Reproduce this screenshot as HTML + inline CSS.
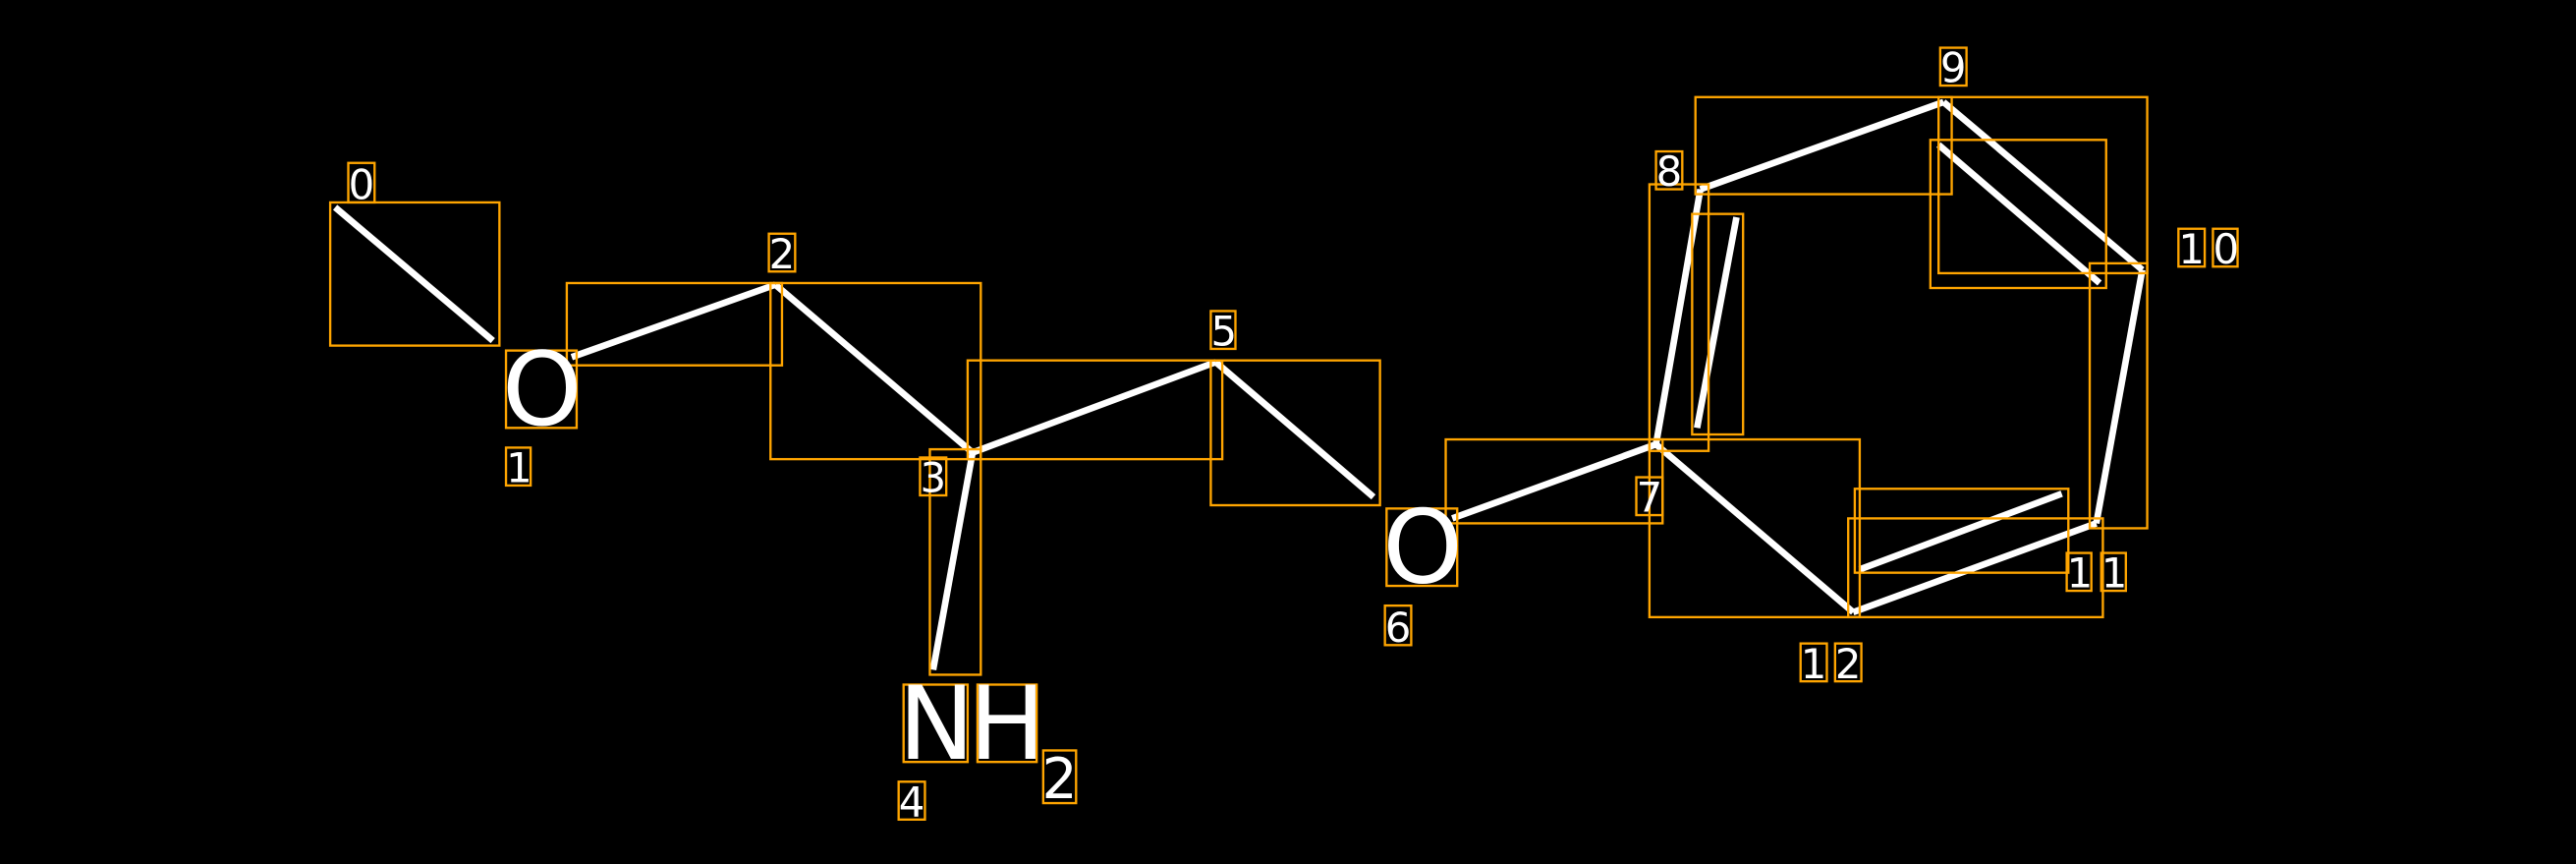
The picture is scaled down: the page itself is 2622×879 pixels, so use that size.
<!DOCTYPE html>
<html><head><meta charset="utf-8"><style>
html,body{margin:0;padding:0;background:#000;}
svg{display:block}
text{font-family:"DejaVu Sans","Liberation Sans",sans-serif;fill:#fff}
</style></head><body>
<svg width="2622" height="879" viewBox="0 0 1568 525" preserveAspectRatio="none">
<rect width="1568" height="525" fill="#000"/>
<g stroke="#fff" stroke-width="4" stroke-linecap="butt">
<line x1="204" y1="126" x2="300" y2="207"/>
<line x1="348" y1="217" x2="472" y2="173"/>
<line x1="472" y1="173" x2="592" y2="275"/>
<line x1="592" y1="275" x2="740" y2="220"/>
<line x1="740" y1="220" x2="836" y2="302"/>
<line x1="592" y1="275" x2="568" y2="407"/>
<line x1="884" y1="315" x2="1008" y2="270"/>
<line x1="1008" y1="270" x2="1035" y2="115"/>
<line x1="1033" y1="260" x2="1057" y2="132"/>
<line x1="1035" y1="115" x2="1183" y2="62"/>
<line x1="1183" y1="62" x2="1304" y2="164"/>
<line x1="1180" y1="88" x2="1278" y2="172"/>
<line x1="1304" y1="164" x2="1276" y2="318"/>
<line x1="1276" y1="318" x2="1128" y2="372"/>
<line x1="1132" y1="346" x2="1255" y2="300"/>
<line x1="1128" y1="372" x2="1008" y2="270"/>
</g>
<g fill="none" stroke="#ffa500" stroke-width="1.4">
<rect x="201" y="123" width="103" height="87"/>
<rect x="345" y="172" width="131" height="50"/>
<rect x="469" y="172" width="128" height="107"/>
<rect x="589" y="219" width="155" height="60"/>
<rect x="566" y="273" width="31" height="137"/>
<rect x="737" y="219" width="103" height="88"/>
<rect x="880" y="267" width="132" height="51"/>
<rect x="1004" y="112" width="36" height="162"/>
<rect x="1030" y="130" width="31" height="134"/>
<rect x="1032" y="59" width="156" height="59"/>
<rect x="1180" y="59" width="127" height="107"/>
<rect x="1175" y="85" width="107" height="90"/>
<rect x="1272" y="160" width="35" height="161"/>
<rect x="1004" y="267" width="128" height="108"/>
<rect x="1125" y="315" width="155" height="60"/>
<rect x="1129" y="297" width="130" height="51"/>
<!-- label boxes -->
<rect x="212" y="99" width="16" height="24"/>
<rect x="308" y="213" width="43" height="47"/>
<rect x="308" y="272" width="15" height="23"/>
<rect x="468" y="142" width="16" height="23"/>
<rect x="560" y="278" width="16" height="23"/>
<rect x="550" y="416" width="39" height="47"/>
<rect x="595" y="416" width="36" height="47"/>
<rect x="635" y="456" width="20" height="32"/>
<rect x="547" y="475" width="16" height="23"/>
<rect x="737" y="189" width="15" height="23"/>
<rect x="844" y="309" width="43" height="47"/>
<rect x="843" y="368" width="16" height="24"/>
<rect x="996" y="290" width="16" height="23"/>
<rect x="1008" y="92" width="16" height="23"/>
<rect x="1181" y="29" width="16" height="23"/>
<rect x="1326" y="139" width="16" height="23"/>
<rect x="1347" y="139" width="15" height="23"/>
<rect x="1258" y="336" width="15" height="23"/>
<rect x="1279" y="336" width="15" height="23"/>
<rect x="1096" y="391" width="16" height="23"/>
<rect x="1117" y="391" width="16" height="23"/>
</g>
<g font-size="25" text-anchor="middle">
<text x="220" y="121">0</text>
<text x="316" y="293">1</text>
<text x="476" y="163">2</text>
<text x="568" y="299">3</text>
<text x="555" y="496">4</text>
<text x="745" y="210">5</text>
<text x="851" y="390">6</text>
<text x="1004" y="311">7</text>
<text x="1016" y="113">8</text>
<text x="1189" y="50">9</text>
<text x="1334" y="160">1</text>
<text x="1355" y="160">0</text>
<text x="1266" y="357">1</text>
<text x="1287" y="357">1</text>
<text x="1104" y="412">1</text>
<text x="1125" y="412">2</text>
<text x="645" y="485" font-size="34">2</text>
</g>
<g font-size="62" text-anchor="middle">
<text x="330" y="258">O</text>
<text x="866" y="354">O</text>
<text x="570" y="461">N</text>
<text x="613" y="461">H</text>
</g>
</svg>
</body></html>
